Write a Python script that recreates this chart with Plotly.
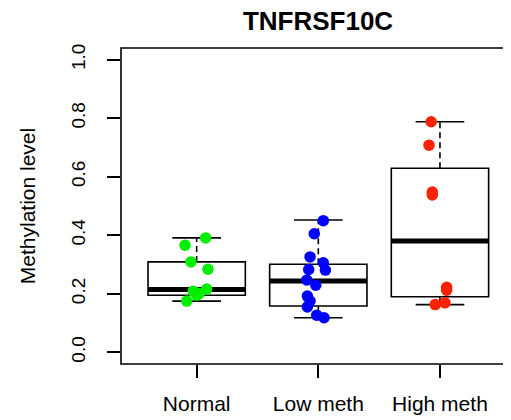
import plotly.graph_objects as go

# ---- data ----
groups = ["Normal", "Low meth", "High meth"]
positions = [1, 2, 3]
colors = ["#00EE00", "#0000FF", "#FF2200"]

q1 = [0.195, 0.158, 0.190]
median = [0.215, 0.244, 0.380]
q3 = [0.309, 0.301, 0.629]
lower = [0.175, 0.118, 0.163]
upper = [0.391, 0.452, 0.788]

normal_vals = [0.391, 0.366, 0.309, 0.284, 0.216, 0.209, 0.200, 0.195, 0.175]
normal_jit = [0.074, -0.096, -0.047, 0.093, 0.082, -0.028, 0.020, 0.000, -0.082]
low_vals = [0.450, 0.405, 0.326, 0.306, 0.281, 0.283, 0.247, 0.229, 0.192, 0.175, 0.155, 0.127, 0.118]
low_jit = [0.041, -0.033, -0.068, 0.041, 0.058, -0.079, -0.095, -0.021, -0.090, -0.068, -0.090, -0.013, 0.047]
high_vals = [0.788, 0.708, 0.548, 0.538, 0.222, 0.212, 0.163, 0.169]
high_jit = [-0.072, -0.090, -0.063, -0.063, 0.055, 0.055, -0.039, 0.041]

point_vals = [normal_vals, low_vals, high_vals]
point_jit = [normal_jit, low_jit, high_jit]

yticks = [0.0, 0.2, 0.4, 0.6, 0.8, 1.0]
ytick_text = ["0.0", "0.2", "0.4", "0.6", "0.8", "1.0"]

BOX_HALF = 0.4
CAP_HALF = 0.2

fig = go.Figure()

# boxes (no whiskers; whiskers drawn dashed below)
fig.add_trace(go.Box(
    x=positions, q1=q1, median=median, q3=q3,
    lowerfence=q1, upperfence=q3,
    width=2 * BOX_HALF, boxpoints=False,
    line=dict(color="black", width=1.6), fillcolor="white",
    whiskerwidth=0, showlegend=False, hoverinfo="skip",
))

wx, wy, cx, cy, mx, my = [], [], [], [], [], []
for p, a, b, lo, hi, m in zip(positions, q1, q3, lower, upper, median):
    wx += [p, p, None, p, p, None]
    wy += [b, hi, None, a, lo, None]
    cx += [p - CAP_HALF, p + CAP_HALF, None, p - CAP_HALF, p + CAP_HALF, None]
    cy += [hi, hi, None, lo, lo, None]
    mx += [p - BOX_HALF, p + BOX_HALF, None]
    my += [m, m, None]

fig.add_trace(go.Scatter(x=wx, y=wy, mode="lines",
                         line=dict(color="black", width=1.6, dash="6px,4px"),
                         showlegend=False, hoverinfo="skip"))
fig.add_trace(go.Scatter(x=cx, y=cy, mode="lines",
                         line=dict(color="black", width=1.6),
                         showlegend=False, hoverinfo="skip"))
fig.add_trace(go.Scatter(x=mx, y=my, mode="lines",
                         line=dict(color="black", width=5),
                         showlegend=False, hoverinfo="skip"))

for p, vals, jit, col in zip(positions, point_vals, point_jit, colors):
    fig.add_trace(go.Scatter(
        x=[p + j for j in jit], y=vals, mode="markers",
        marker=dict(color=col, size=11.5, line=dict(width=0)),
        showlegend=False,
    ))

fig.add_shape(type="rect", xref="paper", yref="paper", x0=0, x1=1.1, y0=0, y1=1,
              line=dict(color="black", width=1.6), layer="above")

# page body has an 8px default margin: compensate in the figure margins
fig.update_layout(
    width=511, height=420,
    margin=dict(l=113, r=8, t=40, b=64),
    paper_bgcolor="white", plot_bgcolor="white",
    font=dict(family="Liberation Sans, Arial, sans-serif", color="black"),
    title=dict(text="<b>TNFRSF10C</b>", x=310 / 511, xanchor="center",
               y=1 - 13 / 420, yanchor="middle", font=dict(size=26)),
    xaxis=dict(range=[0.378, 3.584], tickvals=positions, ticktext=groups,
               ticks="outside", ticklen=13, tickwidth=1.5, tickcolor="black",
               showgrid=False, zeroline=False, showline=False, automargin=False,
               tickfont=dict(size=21), ticklabelstandoff=8),
    yaxis=dict(range=[-0.04, 1.04], tickvals=yticks, ticktext=ytick_text,
               ticks="outside", ticklen=13, tickwidth=1.5, tickcolor="black",
               showgrid=False, zeroline=False, showline=False, automargin=False,
               tickangle=-90, tickfont=dict(size=19), ticklabelstandoff=14,
               title=dict(text="Methylation level", font=dict(size=21), standoff=27)),
)

fig.write_html("out.html")
